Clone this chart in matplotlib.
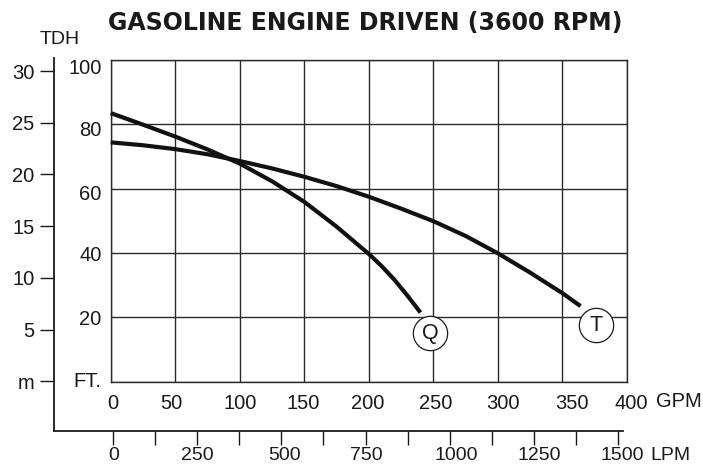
import matplotlib
matplotlib.use("Agg")
import matplotlib.pyplot as plt
from matplotlib.transforms import ScaledTranslation

# ---------------- data ----------------
title = "GASOLINE ENGINE DRIVEN (3600 RPM)"

q_gpm = [0, 25, 50, 75, 100, 125, 150, 175, 200, 210, 220, 230, 240]
q_ft = [83.5, 79.9, 76.2, 72.2, 67.8, 62.3, 55.9, 48.2, 39.7, 35.9, 31.6, 26.7, 21.5]

t_gpm = [0, 25, 50, 75, 100, 125, 150, 175, 200, 225, 250, 275, 300, 325, 350, 364]
t_ft = [74.4, 73.5, 72.3, 70.7, 68.6, 66.3, 63.7, 60.8, 57.5, 53.8, 49.9, 45.3, 39.9, 33.9, 27.5, 23.5]

series_labels = ["Q", "T"]
label_gpm = [247.4, 376.0]
label_ft = [15.0, 17.5]

gpm_ticks = [0, 50, 100, 150, 200, 250, 300, 350, 400]
gpm_labels = ["0", "50", "100", "150", "200", "250", "300", "350", "400"]
ft_ticks = [0, 20, 40, 60, 80, 100]
ft_labels = ["FT.", "20", "40", "60", "80", "100"]
m_ticks = [0, 5, 10, 15, 20, 25, 30]
m_labels = ["m", "5", "10", "15", "20", "25", "30"]
lpm_ticks = [0, 250, 500, 750, 1000, 1250, 1500]
lpm_minor = [125, 375, 625, 875, 1125, 1375]
lpm_labels = ["0", "250", "500", "750", "1000", "1250", "1500"]

# ---------------- figure ----------------
W, H = 703, 465
fig = plt.figure(figsize=(W / 100, H / 100), dpi=100)
FAM = ["Liberation Sans Narrow", "Liberation Sans", "DejaVu Sans"]
plt.rcParams["font.family"] = FAM

def fx(px):
    return px / W

def fy(py):
    return 1 - py / H

INK = "#1a1a1a"
GRID = "#2a2a2a"

# frame axes with metre and LPM scales
ax2 = fig.add_axes([fx(54.3), fy(430.7), (623.3 - 54.3) / W, (430.7 - 58.3) / H])
ax2.set_facecolor("none")
for s in ["top", "right"]:
    ax2.spines[s].set_visible(False)
for s in ["left", "bottom"]:
    ax2.spines[s].set_linewidth(1.3)
    ax2.spines[s].set_color(INK)
ax2.set_ylim(-49.4 / 10.343, (381.3 - 58.3) / 10.343)
ax2.set_xlim((54.3 - 113.3) / 0.33628, (623.3 - 113.3) / 0.33628)
ax2.set_yticks(m_ticks)
ax2.set_yticklabels(m_labels)
ax2.set_xticks(lpm_ticks)
ax2.set_xticklabels(lpm_labels)
ax2.set_xticks(lpm_minor, minor=True)
ax2.tick_params(axis="y", direction="out", length=10, width=1.0, color=INK,
                pad=4.3, labelsize=14.5, labelcolor=INK)
ax2.tick_params(axis="x", which="both", direction="out", length=10, width=1.0,
                color=INK, pad=2.0, labelsize=14, labelcolor=INK)
lpm_dx = [0, 0, 3, 1, 7, 6, 5]
for lab, dx in zip(ax2.get_xticklabels(), lpm_dx):
    lab.set_transform(lab.get_transform() + ScaledTranslation(dx / 100, 0, fig.dpi_scale_trans))

# main chart
ax = fig.add_axes([fx(110.7), fy(381.7), (627 - 110.7) / W, (381.7 - 60) / H])
ax.set_facecolor("white")
ax.set_xlim(0, 400)
ax.set_ylim(0, 100)
ax.set_xticks(gpm_ticks)
ax.set_xticklabels(gpm_labels)
ax.set_yticks(ft_ticks)
ax.set_yticklabels(ft_labels)
ax.tick_params(axis="both", length=0, labelsize=14.5, labelcolor=INK)
ax.tick_params(axis="x", pad=9.0)
ax.tick_params(axis="y", pad=6.5)
ax.grid(True, color=GRID, linewidth=1.0)
ax.set_axisbelow(True)
for s in ax.spines.values():
    s.set_linewidth(1.0)
    s.set_color(GRID)

gpm_dx = [2.6, -3.6, 0.3, -1.6, -0.7, 2, 5, 9, 4.7]
for lab, dx in zip(ax.get_xticklabels(), gpm_dx):
    lab.set_transform(lab.get_transform() + ScaledTranslation(dx / 100, 0, fig.dpi_scale_trans))
ft_dy = [2.5, -0.5, -0.5, -3.5, -4, -6.5]
for lab, dy in zip(ax.get_yticklabels(), ft_dy):
    lab.set_transform(lab.get_transform() + ScaledTranslation(0, dy / 100, fig.dpi_scale_trans))

ax.plot(q_gpm, q_ft, color="#111111", lw=3.0, solid_capstyle="butt",
        solid_joinstyle="round", zorder=3, clip_on=False)
ax.plot(t_gpm, t_ft, color="#111111", lw=3.0, solid_capstyle="butt",
        solid_joinstyle="round", zorder=3, clip_on=False)

ax.scatter(label_gpm, label_ft, s=610, facecolor="white", edgecolor=INK,
           linewidth=0.9, zorder=4)
for name, gx, gy in zip(series_labels, label_gpm, label_ft):
    ax.text(gx, gy, name, ha="center", va="center", fontsize=15.5, color=INK, zorder=5)

# unit labels and title
fig.text(fx(678.5), fy(401.7), "GPM", ha="center", va="center", fontsize=14.5, color=INK)
fig.text(fx(670), fy(455.5), "LPM", ha="center", va="center", fontsize=14, color=INK)
fig.text(fx(60), fy(40), "TDH", ha="center", va="center", fontsize=14, color=INK)
fig.text(fx(365), fy(23.3), title, ha="center", va="center", fontsize=17,
         fontweight="bold", family=["DejaVu Sans"], color=INK)

fig.savefig("out.png", dpi=100)
